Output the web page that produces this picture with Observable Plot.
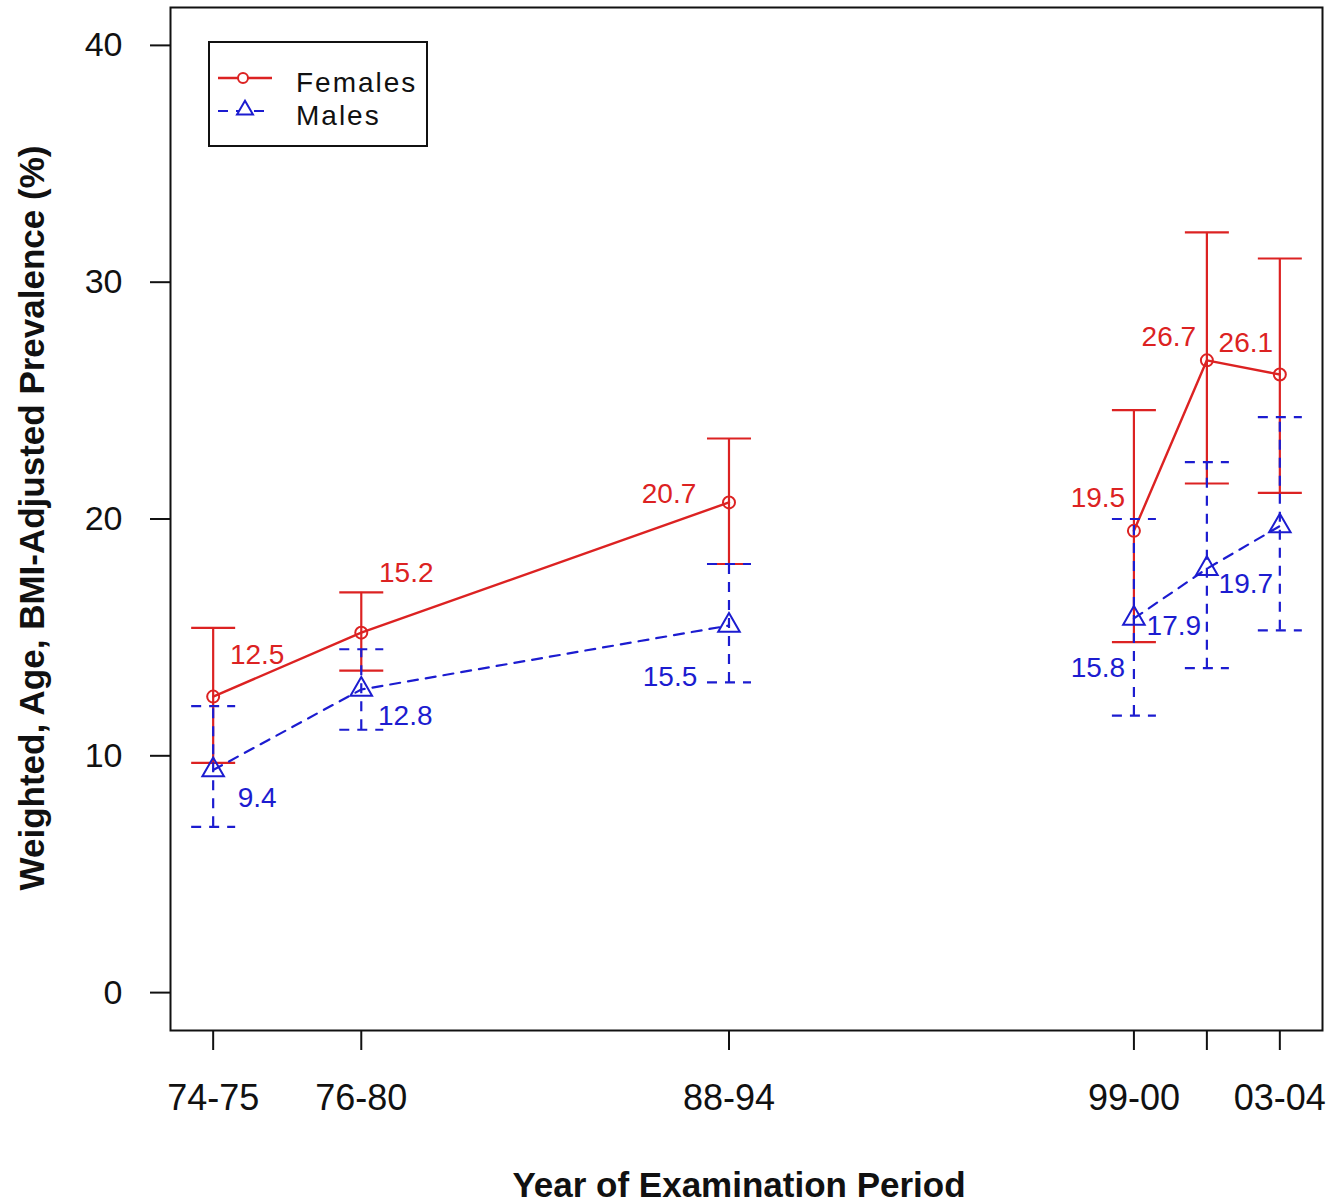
<!DOCTYPE html>
<html><head><meta charset="utf-8">
<script src="https://cdn.jsdelivr.net/npm/d3@7"></script>
<script src="https://cdn.jsdelivr.net/npm/@observablehq/plot@0.6"></script>
<style>
body{margin:0;background:#fff}
svg{font-family:"Liberation Sans",Arial,Helvetica,sans-serif}
</style>
</head><body><div id="chart"></div>
<script>
// ---- data ----
const periods = ["74-75","76-80","88-94","99-00","01-02","03-04"];
const tickLabels = ["74-75","76-80","88-94","99-00","","03-04"];
const xPos = [0, 2.03, 7.07, 12.62, 13.62, 14.62];
const surveyGroup = ["NHANES I-III","NHANES I-III","NHANES I-III","continuous","continuous","continuous"];
const females   = [12.5, 15.2, 20.7, 19.5, 26.7, 26.1];
const femalesLo = [9.7, 13.6, 18.1, 14.8, 21.5, 21.1];
const femalesHi = [15.4, 16.9, 23.4, 24.6, 32.1, 31.0];
const males     = [9.4, 12.8, 15.5, 15.8, 17.9, 19.7];
const malesLo   = [7.0, 11.1, 13.1, 11.7, 13.7, 15.3];
const malesHi   = [12.1, 14.5, 18.1, 20.0, 22.4, 24.3];
const yTicks = [0, 10, 20, 30, 40];
// value-label placement offsets (px)
const femLabelDx  = [44, 45, -60, -36, -38, -34];
const femLabelDy  = [-42, -60, -8, -33, -23, -32];
const maleLabelDx = [44, 44, -59, -36, -33, -34];
const maleLabelDy = [28, 27, 51, 50, 57, 58];

const RED = "#dc2222", BLUE = "#1c1cd0", DASH = "10,8";

const fem = periods.map((p, i) => ({p, g: surveyGroup[i], x: xPos[i], y: females[i], lo: femalesLo[i], hi: femalesHi[i]}));
const mal = periods.map((p, i) => ({p, g: surveyGroup[i], x: xPos[i], y: males[i], lo: malesLo[i], hi: malesHi[i]}));

const xr = d3.extent(xPos), xe = (xr[1] - xr[0]) * 0.04;
const yr = [0, 40], ye = (yr[1] - yr[0]) * 0.04;

const capSymbol = {draw(ctx, size) { const w = Math.sqrt(size / Math.PI); ctx.moveTo(-w, 0); ctx.lineTo(w, 0); }};

function errorBars(data, color, dash) {
  return [
    Plot.ruleX(data, {x: "x", y1: "lo", y2: "hi", stroke: color, strokeWidth: 2.2, strokeDasharray: dash}),
    Plot.dot(data, {x: "x", y: "hi", symbol: capSymbol, r: 22, fill: "none", stroke: color, strokeWidth: 2.2, strokeDasharray: dash}),
    Plot.dot(data, {x: "x", y: "lo", symbol: capSymbol, r: 22, fill: "none", stroke: color, strokeWidth: 2.2, strokeDasharray: dash})
  ];
}
function labels(data, color, dxs, dys) {
  return data.map((d, i) => Plot.text([d], {x: "x", y: "y", text: d => d.y.toFixed(1), dx: dxs[i], dy: dys[i], fill: color, fontSize: 28}));
}

const chart = Plot.plot({
  width: 1338, height: 1203,
  marginLeft: 170, marginRight: 16, marginTop: 7, marginBottom: 173,
  style: {fontFamily: '"Liberation Sans",Arial,sans-serif', background: "white", overflow: "visible"},
  x: {domain: [xr[0] - xe, xr[1] + xe]},
  y: {domain: [yr[0] - ye, yr[1] + ye]},
  marks: [
    Plot.axisX({ticks: xPos, tickFormat: d => tickLabels[xPos.indexOf(d)], tickSize: 20, tickPadding: 34, fontSize: 36, label: null, strokeWidth: 2, color: "#111"}),
    Plot.axisY({ticks: yTicks, tickSize: 20, tickPadding: 28, fontSize: 34, label: null, strokeWidth: 2, color: "#111"}),
    ...errorBars(fem, RED, null),
    Plot.line(fem, {x: "x", y: "y", z: "g", stroke: RED, strokeWidth: 2.4}),
    Plot.dot(fem, {x: "x", y: "y", r: 6, stroke: RED, strokeWidth: 2, fill: "none"}),
    ...errorBars(mal, BLUE, DASH),
    Plot.line(mal, {x: "x", y: "y", z: "g", stroke: BLUE, strokeWidth: 2.2, strokeDasharray: DASH}),
    Plot.dot(mal, {x: "x", y: "y", r: 8, symbol: "triangle", stroke: BLUE, strokeWidth: 2, fill: "none"}),
    ...labels(fem, RED, femLabelDx, femLabelDy),
    ...labels(mal, BLUE, maleLabelDx, maleLabelDy),
    Plot.frame({stroke: "#111", strokeWidth: 2})
  ]
});
document.getElementById("chart").appendChild(chart);

const svg = d3.select(chart);

// axis titles
svg.append("text").attr("x", 739).attr("y", 1197).attr("text-anchor", "middle")
  .attr("font-size", 35).attr("font-weight", "bold").attr("fill", "#111")
  .text("Year of Examination Period");
svg.append("text").attr("transform", "translate(44,518) rotate(-90)").attr("text-anchor", "middle")
  .attr("font-size", 35).attr("font-weight", "bold").attr("fill", "#111")
  .text("Weighted, Age, BMI-Adjusted Prevalence (%)");

// legend
const lg = svg.append("g").attr("text-anchor", "start");
lg.append("rect").attr("x", 209).attr("y", 42).attr("width", 218).attr("height", 104)
  .attr("fill", "white").attr("stroke", "#111").attr("stroke-width", 2);
lg.append("line").attr("x1", 218).attr("x2", 272).attr("y1", 78).attr("y2", 78).attr("stroke", RED).attr("stroke-width", 2.4);
lg.append("circle").attr("cx", 243).attr("cy", 78).attr("r", 5).attr("fill", "white").attr("stroke", RED).attr("stroke-width", 2);
lg.append("line").attr("x1", 218).attr("x2", 272).attr("y1", 111).attr("y2", 111).attr("stroke", BLUE).attr("stroke-width", 2.2).attr("stroke-dasharray", DASH);
lg.append("path").attr("d", d3.symbol(d3.symbolTriangle, 110)()).attr("transform", "translate(245,110)")
  .attr("fill", "white").attr("stroke", BLUE).attr("stroke-width", 2);
lg.append("text").attr("x", 296).attr("y", 92).attr("text-anchor", "start").attr("font-size", 28).attr("letter-spacing", 2).attr("fill", "#111").text("Females");
lg.append("text").attr("x", 296).attr("y", 125).attr("text-anchor", "start").attr("font-size", 28).attr("letter-spacing", 2).attr("fill", "#111").text("Males");
</script>
</body></html>
